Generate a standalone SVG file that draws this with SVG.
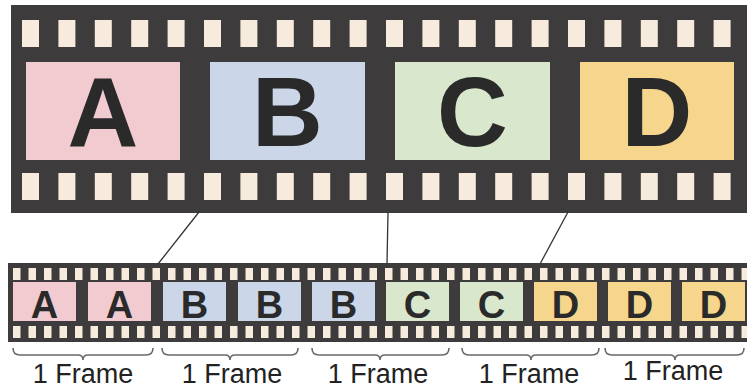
<svg xmlns="http://www.w3.org/2000/svg" width="747" height="390" viewBox="0 0 747 390">
<style>
.film{fill:#3d3b3b}
.hole{fill:#f6ebdc}
.big{font-family:"Liberation Sans",Arial,sans-serif;font-weight:bold;font-size:98px;fill:#2a2a2a;text-anchor:middle}
.small{font-family:"Liberation Sans",Arial,sans-serif;font-weight:bold;font-size:38px;fill:#2a2a2a;text-anchor:middle}
.lbl{font-family:"Liberation Sans",Arial,sans-serif;font-size:27px;fill:#222;text-anchor:middle}
.a{fill:#f1cbcf}.b{fill:#cbd6e9}.c{fill:#d9e7cd}.d{fill:#f6d58c}
.brace{fill:none;stroke:#6a6a6a;stroke-width:1.6}
.conn{stroke:#333;stroke-width:1.3;fill:none}
</style>
<defs>
<rect id="th" width="17" height="27" class="hole"/>
<rect id="bh" width="7.5" height="12" class="hole"/>
</defs>
<rect width="747" height="390" fill="#ffffff"/>
<g id="top-film">
<rect class="film" x="11" y="5" width="740" height="208"/>
<g id="top-holes">
<use href="#th" x="22" y="20"/><use href="#th" x="58.4" y="20"/><use href="#th" x="94.8" y="20"/><use href="#th" x="131.2" y="20"/><use href="#th" x="167.6" y="20"/><use href="#th" x="204" y="20"/><use href="#th" x="240.4" y="20"/><use href="#th" x="276.8" y="20"/><use href="#th" x="313.2" y="20"/><use href="#th" x="349.6" y="20"/><use href="#th" x="386" y="20"/><use href="#th" x="422.4" y="20"/><use href="#th" x="458.8" y="20"/><use href="#th" x="495.2" y="20"/><use href="#th" x="531.6" y="20"/><use href="#th" x="568" y="20"/><use href="#th" x="604.4" y="20"/><use href="#th" x="640.8" y="20"/><use href="#th" x="677.2" y="20"/><use href="#th" x="713.6" y="20"/>
<use href="#th" x="22" y="173"/><use href="#th" x="58.4" y="173"/><use href="#th" x="94.8" y="173"/><use href="#th" x="131.2" y="173"/><use href="#th" x="167.6" y="173"/><use href="#th" x="204" y="173"/><use href="#th" x="240.4" y="173"/><use href="#th" x="276.8" y="173"/><use href="#th" x="313.2" y="173"/><use href="#th" x="349.6" y="173"/><use href="#th" x="386" y="173"/><use href="#th" x="422.4" y="173"/><use href="#th" x="458.8" y="173"/><use href="#th" x="495.2" y="173"/><use href="#th" x="531.6" y="173"/><use href="#th" x="568" y="173"/><use href="#th" x="604.4" y="173"/><use href="#th" x="640.8" y="173"/><use href="#th" x="677.2" y="173"/><use href="#th" x="713.6" y="173"/>
</g>
</g>
<g id="frame-A"><rect class="a" x="26" y="62" width="154" height="98"/><text class="big" x="103" y="146">A</text></g>
<g id="frame-B"><rect class="b" x="210" y="62" width="155" height="98"/><text class="big" x="287.5" y="146">B</text></g>
<g id="frame-C"><rect class="c" x="395" y="62" width="155" height="98"/><text class="big" x="472.5" y="146">C</text></g>
<g id="frame-D"><rect class="d" x="580" y="62" width="154" height="98"/><text class="big" x="657" y="146">D</text></g>
<g id="connectors">
<line class="conn" x1="199" y1="212" x2="158" y2="264"/>
<line class="conn" x1="388" y1="212" x2="387" y2="264"/>
<line class="conn" x1="568" y1="212" x2="540" y2="264"/>
</g>
<g id="bottom-film">
<rect class="film" x="8" y="263" width="745" height="79"/>
<g id="bottom-holes">
<use href="#bh" x="13" y="268"/><use href="#bh" x="28.5" y="268"/><use href="#bh" x="44" y="268"/><use href="#bh" x="59.5" y="268"/><use href="#bh" x="75" y="268"/><use href="#bh" x="90.5" y="268"/><use href="#bh" x="106" y="268"/><use href="#bh" x="121.5" y="268"/><use href="#bh" x="137" y="268"/><use href="#bh" x="152.5" y="268"/><use href="#bh" x="168" y="268"/><use href="#bh" x="183.5" y="268"/><use href="#bh" x="199" y="268"/><use href="#bh" x="214.5" y="268"/><use href="#bh" x="230" y="268"/><use href="#bh" x="245.5" y="268"/><use href="#bh" x="261" y="268"/><use href="#bh" x="276.5" y="268"/><use href="#bh" x="292" y="268"/><use href="#bh" x="307.5" y="268"/><use href="#bh" x="323" y="268"/><use href="#bh" x="338.5" y="268"/><use href="#bh" x="354" y="268"/><use href="#bh" x="369.5" y="268"/><use href="#bh" x="385" y="268"/><use href="#bh" x="400.5" y="268"/><use href="#bh" x="416" y="268"/><use href="#bh" x="431.5" y="268"/><use href="#bh" x="447" y="268"/><use href="#bh" x="462.5" y="268"/><use href="#bh" x="478" y="268"/><use href="#bh" x="493.5" y="268"/><use href="#bh" x="509" y="268"/><use href="#bh" x="524.5" y="268"/><use href="#bh" x="540" y="268"/><use href="#bh" x="555.5" y="268"/><use href="#bh" x="571" y="268"/><use href="#bh" x="586.5" y="268"/><use href="#bh" x="602" y="268"/><use href="#bh" x="617.5" y="268"/><use href="#bh" x="633" y="268"/><use href="#bh" x="648.5" y="268"/><use href="#bh" x="664" y="268"/><use href="#bh" x="679.5" y="268"/><use href="#bh" x="695" y="268"/><use href="#bh" x="710.5" y="268"/><use href="#bh" x="726" y="268"/><use href="#bh" x="741.5" y="268"/>
<use href="#bh" x="13" y="326"/><use href="#bh" x="28.5" y="326"/><use href="#bh" x="44" y="326"/><use href="#bh" x="59.5" y="326"/><use href="#bh" x="75" y="326"/><use href="#bh" x="90.5" y="326"/><use href="#bh" x="106" y="326"/><use href="#bh" x="121.5" y="326"/><use href="#bh" x="137" y="326"/><use href="#bh" x="152.5" y="326"/><use href="#bh" x="168" y="326"/><use href="#bh" x="183.5" y="326"/><use href="#bh" x="199" y="326"/><use href="#bh" x="214.5" y="326"/><use href="#bh" x="230" y="326"/><use href="#bh" x="245.5" y="326"/><use href="#bh" x="261" y="326"/><use href="#bh" x="276.5" y="326"/><use href="#bh" x="292" y="326"/><use href="#bh" x="307.5" y="326"/><use href="#bh" x="323" y="326"/><use href="#bh" x="338.5" y="326"/><use href="#bh" x="354" y="326"/><use href="#bh" x="369.5" y="326"/><use href="#bh" x="385" y="326"/><use href="#bh" x="400.5" y="326"/><use href="#bh" x="416" y="326"/><use href="#bh" x="431.5" y="326"/><use href="#bh" x="447" y="326"/><use href="#bh" x="462.5" y="326"/><use href="#bh" x="478" y="326"/><use href="#bh" x="493.5" y="326"/><use href="#bh" x="509" y="326"/><use href="#bh" x="524.5" y="326"/><use href="#bh" x="540" y="326"/><use href="#bh" x="555.5" y="326"/><use href="#bh" x="571" y="326"/><use href="#bh" x="586.5" y="326"/><use href="#bh" x="602" y="326"/><use href="#bh" x="617.5" y="326"/><use href="#bh" x="633" y="326"/><use href="#bh" x="648.5" y="326"/><use href="#bh" x="664" y="326"/><use href="#bh" x="679.5" y="326"/><use href="#bh" x="695" y="326"/><use href="#bh" x="710.5" y="326"/><use href="#bh" x="726" y="326"/><use href="#bh" x="741.5" y="326"/>
</g>
</g>
<g id="f1"><rect class="a" x="13" y="282" width="63" height="39"/><text class="small" x="44.5" y="318">A</text></g>
<g id="f2"><rect class="a" x="88" y="282" width="63" height="39"/><text class="small" x="119.5" y="318">A</text></g>
<g id="f3"><rect class="b" x="163" y="282" width="63" height="39"/><text class="small" x="194.5" y="318">B</text></g>
<g id="f4"><rect class="b" x="238" y="282" width="63" height="39"/><text class="small" x="269.5" y="318">B</text></g>
<g id="f5"><rect class="b" x="312" y="282" width="63" height="39"/><text class="small" x="343.5" y="318">B</text></g>
<g id="f6"><rect class="c" x="386" y="282" width="63" height="39"/><text class="small" x="417.5" y="318">C</text></g>
<g id="f7"><rect class="c" x="460" y="282" width="63" height="39"/><text class="small" x="491.5" y="318">C</text></g>
<g id="f8"><rect class="d" x="534" y="282" width="63" height="39"/><text class="small" x="565.5" y="318">D</text></g>
<g id="f9"><rect class="d" x="608" y="282" width="63" height="39"/><text class="small" x="639.5" y="318">D</text></g>
<g id="f10"><rect class="d" x="682" y="282" width="63" height="39"/><text class="small" x="713.5" y="318">D</text></g>
<g id="braces">
<path class="brace" d="M13,348 Q13,355 20,355 L78,355 Q83,355 83,360 Q83,355 88,355 L146,355 Q153,355 153,348"/>
<path class="brace" d="M162,348 Q162,355 169,355 L225,355 Q230,355 230,360 Q230,355 235,355 L291,355 Q298,355 298,348"/>
<path class="brace" d="M312,348 Q312,355 319,355 L375,355 Q380,355 380,360 Q380,355 385,355 L442,355 Q449,355 449,348"/>
<path class="brace" d="M462,348 Q462,355 469,355 L526,355 Q531,355 531,360 Q531,355 536,355 L592,355 Q599,355 599,348"/>
<path class="brace" d="M605,348 Q605,355 612,355 L670,355 Q675,355 675,360 Q675,355 680,355 L737,355 Q744,355 744,348"/>
</g>
<g id="labels">
<text class="lbl" x="83" y="383">1 Frame</text>
<text class="lbl" x="232" y="383">1 Frame</text>
<text class="lbl" x="378" y="383">1 Frame</text>
<text class="lbl" x="529" y="383">1 Frame</text>
<text class="lbl" x="673" y="380">1 Frame</text>
</g>
</svg>
